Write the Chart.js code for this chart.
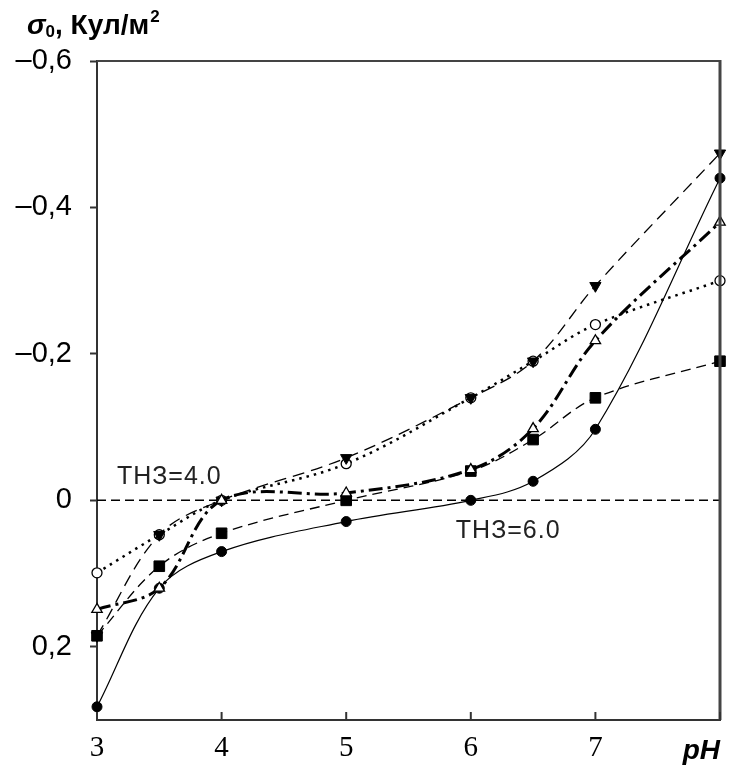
<!DOCTYPE html>
<html>
<head>
<meta charset="utf-8">
<script src="https://cdn.jsdelivr.net/npm/chart.js@4/dist/chart.umd.min.js"></script>
<style>
  html, body { margin: 0; padding: 0; background: #ffffff; }
  #wrap { width: 731px; height: 771px; position: relative; }
</style>
</head>
<body>
<div id="wrap"><canvas id="c" width="731" height="771"></canvas></div>
<script>
// ---- data ----
const phValues = [3, 3.5, 4, 5, 6, 6.5, 7, 8];
const seriesOpenTriangle = [0.149, 0.12, 0.0, -0.01, -0.042, -0.098, -0.218, -0.38];
const seriesFilledTriDown = [0.185, 0.047, 0.0, -0.058, -0.14, -0.19, -0.293, -0.474];
const seriesFilledSquare = [0.185, 0.09, 0.045, 0.0, -0.04, -0.083, -0.14, -0.19];
const seriesOpenCircle = [0.099, 0.047, 0.0, -0.05, -0.14, -0.19, -0.24, -0.30];
const seriesFilledCircle = [0.282, 0.12, 0.07, 0.029, 0.0, -0.026, -0.097, -0.44];

const xTicks = [3, 4, 5, 6, 7, 8];
const xTickLabels = ['3', '4', '5', '6', '7', ''];
const yTicks = [-0.6, -0.4, -0.2, 0, 0.2];
const yTickLabels = ['\u20130,6', '\u20130,4', '\u20130,2', '0', '0,2'];
const xAxisTitle = 'pH';
const annotations = [
  { text: 'ТНЗ=4.0', x: 3.16, y: -0.022 },
  { text: 'ТНЗ=6.0', x: 5.88, y: 0.052 }
];

function pts(arr) { return phValues.map((p, i) => ({ x: p, y: arr[i] })); }

const extras = {
  id: 'extras',
  beforeDatasetsDraw(chart) {
    const { ctx, chartArea: { left, right, top, bottom }, scales: { x, y } } = chart;
    ctx.save();
    const y0 = y.getPixelForValue(0);
    ctx.strokeStyle = '#000';
    ctx.lineWidth = 1.5;
    ctx.setLineDash([9, 5]);
    ctx.beginPath();
    ctx.moveTo(left, y0);
    ctx.lineTo(right, y0);
    ctx.stroke();
    ctx.setLineDash([]);
    ctx.fillStyle = '#222';
    ctx.font = '25px "Liberation Sans", Arial, sans-serif';
    try { ctx.letterSpacing = '1px'; } catch (e) {}
    ctx.textAlign = 'left';
    ctx.textBaseline = 'alphabetic';
    annotations.forEach(a => {
      ctx.fillText(a.text, x.getPixelForValue(a.x), y.getPixelForValue(a.y));
    });
    try { ctx.letterSpacing = '0px'; } catch (e) {}
    ctx.restore();
  },
  afterDraw(chart) {
    const { ctx, chartArea: { left, right, top, bottom }, scales: { x, y } } = chart;
    ctx.save();
    ctx.strokeStyle = '#444';
    ctx.lineWidth = 2;
    ctx.beginPath();
    ctx.moveTo(left, top);
    ctx.lineTo(right, top);
    ctx.stroke();
    ctx.lineWidth = 3;
    ctx.beginPath();
    ctx.moveTo(right, top - 1);
    ctx.lineTo(right, bottom);
    ctx.stroke();
    ctx.lineWidth = 2;
    ctx.strokeStyle = '#333';
    xTicks.forEach(v => {
      const px = x.getPixelForValue(v);
      ctx.beginPath();
      ctx.moveTo(px, bottom);
      ctx.lineTo(px, bottom - 8);
      ctx.stroke();
    });
    ctx.fillStyle = '#000';
    ctx.font = 'italic bold 28px "Liberation Sans", Arial, sans-serif';
    ctx.textAlign = 'right';
    ctx.textBaseline = 'alphabetic';
    ctx.fillText(xAxisTitle, x.getPixelForValue(8), 759);
    ctx.textAlign = 'left';
    let cx = 27;
    const base = 34;
    ctx.font = 'italic bold 28px "Liberation Sans", Arial, sans-serif';
    ctx.fillText('σ', cx, base);
    cx += ctx.measureText('σ').width;
    ctx.font = 'bold 17px "Liberation Sans", Arial, sans-serif';
    ctx.fillText('0', cx, base + 3);
    cx += ctx.measureText('0').width;
    ctx.font = 'bold 28px "Liberation Sans", Arial, sans-serif';
    ctx.fillText(', Кул/м', cx, base);
    cx += ctx.measureText(', Кул/м').width;
    ctx.font = 'bold 17px "Liberation Sans", Arial, sans-serif';
    ctx.fillText('2', cx + 1, base - 12);
    ctx.restore();
  }
};

const common = { showLine: true, tension: 0.35, borderColor: '#000', pointBorderColor: '#000', clip: false };

new Chart(document.getElementById('c'), {
  type: 'scatter',
  data: {
    datasets: [
      Object.assign({}, common, {
        label: 'open triangle', data: pts(seriesOpenTriangle),
        borderWidth: 3, borderDash: [14, 5, 3, 5],
        pointStyle: 'triangle', pointRadius: 6, pointBackgroundColor: '#fff', pointBorderWidth: 1.3
      }),
      Object.assign({}, common, {
        label: 'filled triangle down', data: pts(seriesFilledTriDown),
        borderWidth: 1.3, borderDash: [12, 7],
        pointStyle: 'triangle', rotation: 180, pointRadius: 6.5, pointBackgroundColor: '#000', pointBorderWidth: 1
      }),
      Object.assign({}, common, {
        label: 'filled square', data: pts(seriesFilledSquare),
        borderWidth: 1.3, borderDash: [10, 6],
        pointStyle: 'rect', pointRadius: 7.5, pointBackgroundColor: '#000', pointBorderWidth: 1
      }),
      Object.assign({}, common, {
        label: 'open circle', data: pts(seriesOpenCircle),
        borderWidth: 2.5, borderDash: [2.5, 5],
        pointStyle: 'circle', pointRadius: 5, pointBackgroundColor: '#fff', pointBorderWidth: 1.3
      }),
      Object.assign({}, common, {
        label: 'filled circle', data: pts(seriesFilledCircle),
        borderWidth: 1.2,
        pointStyle: 'circle', pointRadius: 5, pointBackgroundColor: '#000', pointBorderWidth: 1
      })
    ]
  },
  options: {
    responsive: false,
    animation: false,
    layout: { padding: { top: 61, right: 9, left: 0, bottom: 0 } },
    plugins: { legend: { display: false }, tooltip: { enabled: false } },
    scales: {
      x: {
        type: 'linear', min: 3, max: 8,
        afterBuildTicks(s) { s.ticks = xTicks.map(v => ({ value: v })); },
        afterFit(s) { s.height = 51; },
        grid: { display: false, drawTicks: false },
        border: { display: true, color: '#333', width: 2 },
        ticks: {
          color: '#000', padding: 11, maxRotation: 0, autoSkip: false,
          font: { family: '"Liberation Serif", "Times New Roman", serif', size: 29 },
          callback(v) { const i = xTicks.indexOf(v); return i >= 0 ? xTickLabels[i] : ''; }
        }
      },
      y: {
        type: 'linear', min: -0.6, max: 0.3, reverse: true,
        afterBuildTicks(s) { s.ticks = yTicks.map(v => ({ value: v })); },
        afterFit(s) { s.width = 97; },
        grid: { display: true, drawOnChartArea: false, drawTicks: true, tickLength: 7, color: '#333', tickWidth: 2 },
        border: { display: true, color: '#333', width: 2 },
        ticks: {
          color: '#000', padding: 18, autoSkip: false,
          font: { family: '"Liberation Sans", Arial, sans-serif', size: 29 },
          callback(v) { const i = yTicks.findIndex(t => Math.abs(t - v) < 1e-9); return i >= 0 ? yTickLabels[i] : ''; }
        }
      }
    }
  },
  plugins: [extras]
});
</script>
</body>
</html>
